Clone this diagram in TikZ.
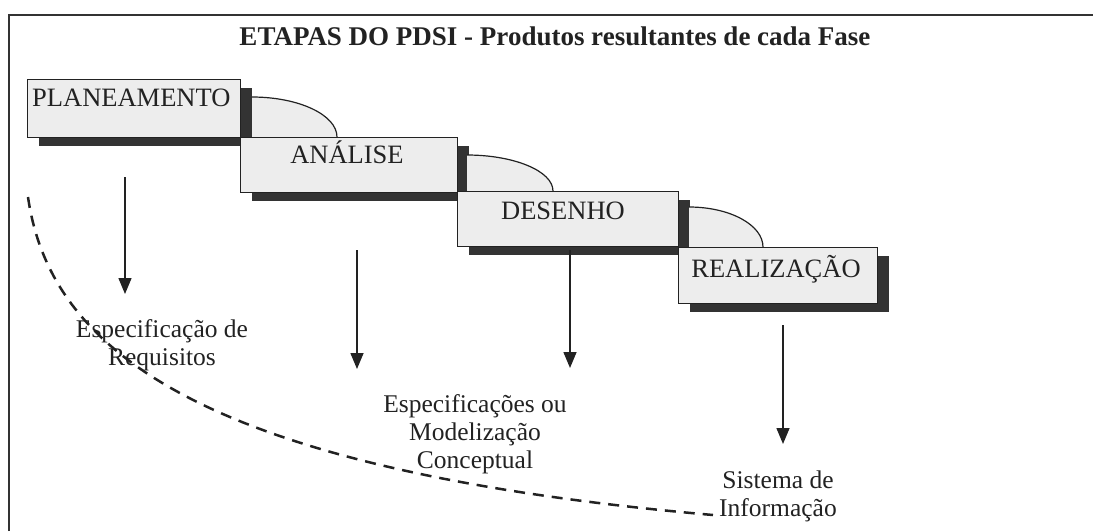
\documentclass[tikz,border=0pt]{standalone}
\usepackage{fontspec}
\setmainfont{Liberation Serif}
\usetikzlibrary{arrows.meta,shadows}
\definecolor{ink}{HTML}{222222}
\definecolor{boxfill}{HTML}{EDEDED}
\definecolor{shade}{HTML}{333333}
\begin{document}
\begin{tikzpicture}[x=1pt,y=-1pt,
  phase/.style={draw=ink, line width=1pt, fill=boxfill, inner sep=0pt, anchor=north west,
    drop shadow={shadow xshift=11pt, shadow yshift=-8pt, opacity=1, fill=shade}},
  plabel/.style={font=\fontsize{26.5}{28}\selectfont, text=ink, inner sep=0pt},
  tabfill/.style={fill=boxfill},
  tabline/.style={draw=ink, line width=1.2pt},
  arr/.style={draw=ink, line width=1.5pt, -{Triangle[width=13pt,length=16pt]}},
  prod/.style={font=\fontsize{25.5}{27.5}\selectfont, text=ink, align=center, inner sep=0pt, anchor=base},
  frame/.style={draw=shade, line width=2.5pt},
  trail/.style={draw=ink, line width=2.5pt, dash pattern=on 11pt off 8pt}]

\useasboundingbox (0,0) rectangle (1093,531);
\draw[frame] (9,531) -- (9,15) -- (1093,15);

\node[font=\bfseries\fontsize{27}{30}\selectfont, text=ink, anchor=base, inner sep=0pt] (title) at (555,45)
  {ETAPAS DO PDSI - Produtos resultantes de cada Fase};

% phase boxes with tabs
\node[phase, minimum width=213pt, minimum height=58pt] (plan) at (27,79) {};
\fill[tabfill] (252,97) .. controls (299,97) and (337,115) .. (337,137) -- (252,137) -- cycle;
\draw[tabline] (252,97) .. controls (299,97) and (337,115) .. (337,137);

\node[phase, minimum width=217pt, minimum height=55pt] (anal) at (240,137) {};
\fill[tabfill] (467,155) .. controls (514,155) and (553,171) .. (553,191) -- (467,191) -- cycle;
\draw[tabline] (467,155) .. controls (514,155) and (553,171) .. (553,191);

\node[phase, minimum width=221pt, minimum height=55pt] (des) at (457,191) {};
\fill[tabfill] (689,207) .. controls (730,207) and (763,225) .. (763,247) -- (689,247) -- cycle;
\draw[tabline] (689,207) .. controls (730,207) and (763,225) .. (763,247);

\node[phase, minimum width=199pt, minimum height=56pt] (real) at (678,247) {};

\node[plabel, anchor=base west] (planT) at (32,106) {PLANEAMENTO};
\node[plabel, anchor=base] (analT) at (347,163) {ANÁLISE};
\node[plabel, anchor=base] (desT) at (563,219) {DESENHO};
\node[plabel, anchor=base] (realT) at (776,277) {REALIZAÇÃO};

% products (anchor base = last line's baseline)
\node[prod] (p1) at (162,365) {Especificação de\\Requisitos};
\node[prod, font=\fontsize{25.5}{28}\selectfont] (p2) at (475,468) {Especificações ou\\Modelização\\Conceptual};
\node[prod] (p3) at (778,516) {Sistema de\\Informação};

% arrows
\coordinate (a1s) at (125,177); \coordinate (a1e) at (125,294);
\coordinate (a2s) at (357,250); \coordinate (a2e) at (357,369);
\coordinate (a3s) at (570,250); \coordinate (a3e) at (570,368);
\coordinate (a4s) at (783,325); \coordinate (a4e) at (783,444);
\draw[arr] (a1s) -- (a1e);
\draw[arr] (a2s) -- (a2e);
\draw[arr] (a3s) -- (a3e);
\draw[arr] (a4s) -- (a4e);

% dashed trail
\draw[trail] (28,197) .. controls (50,350) and (200,470) .. (713,515);
\end{tikzpicture}
\end{document}
